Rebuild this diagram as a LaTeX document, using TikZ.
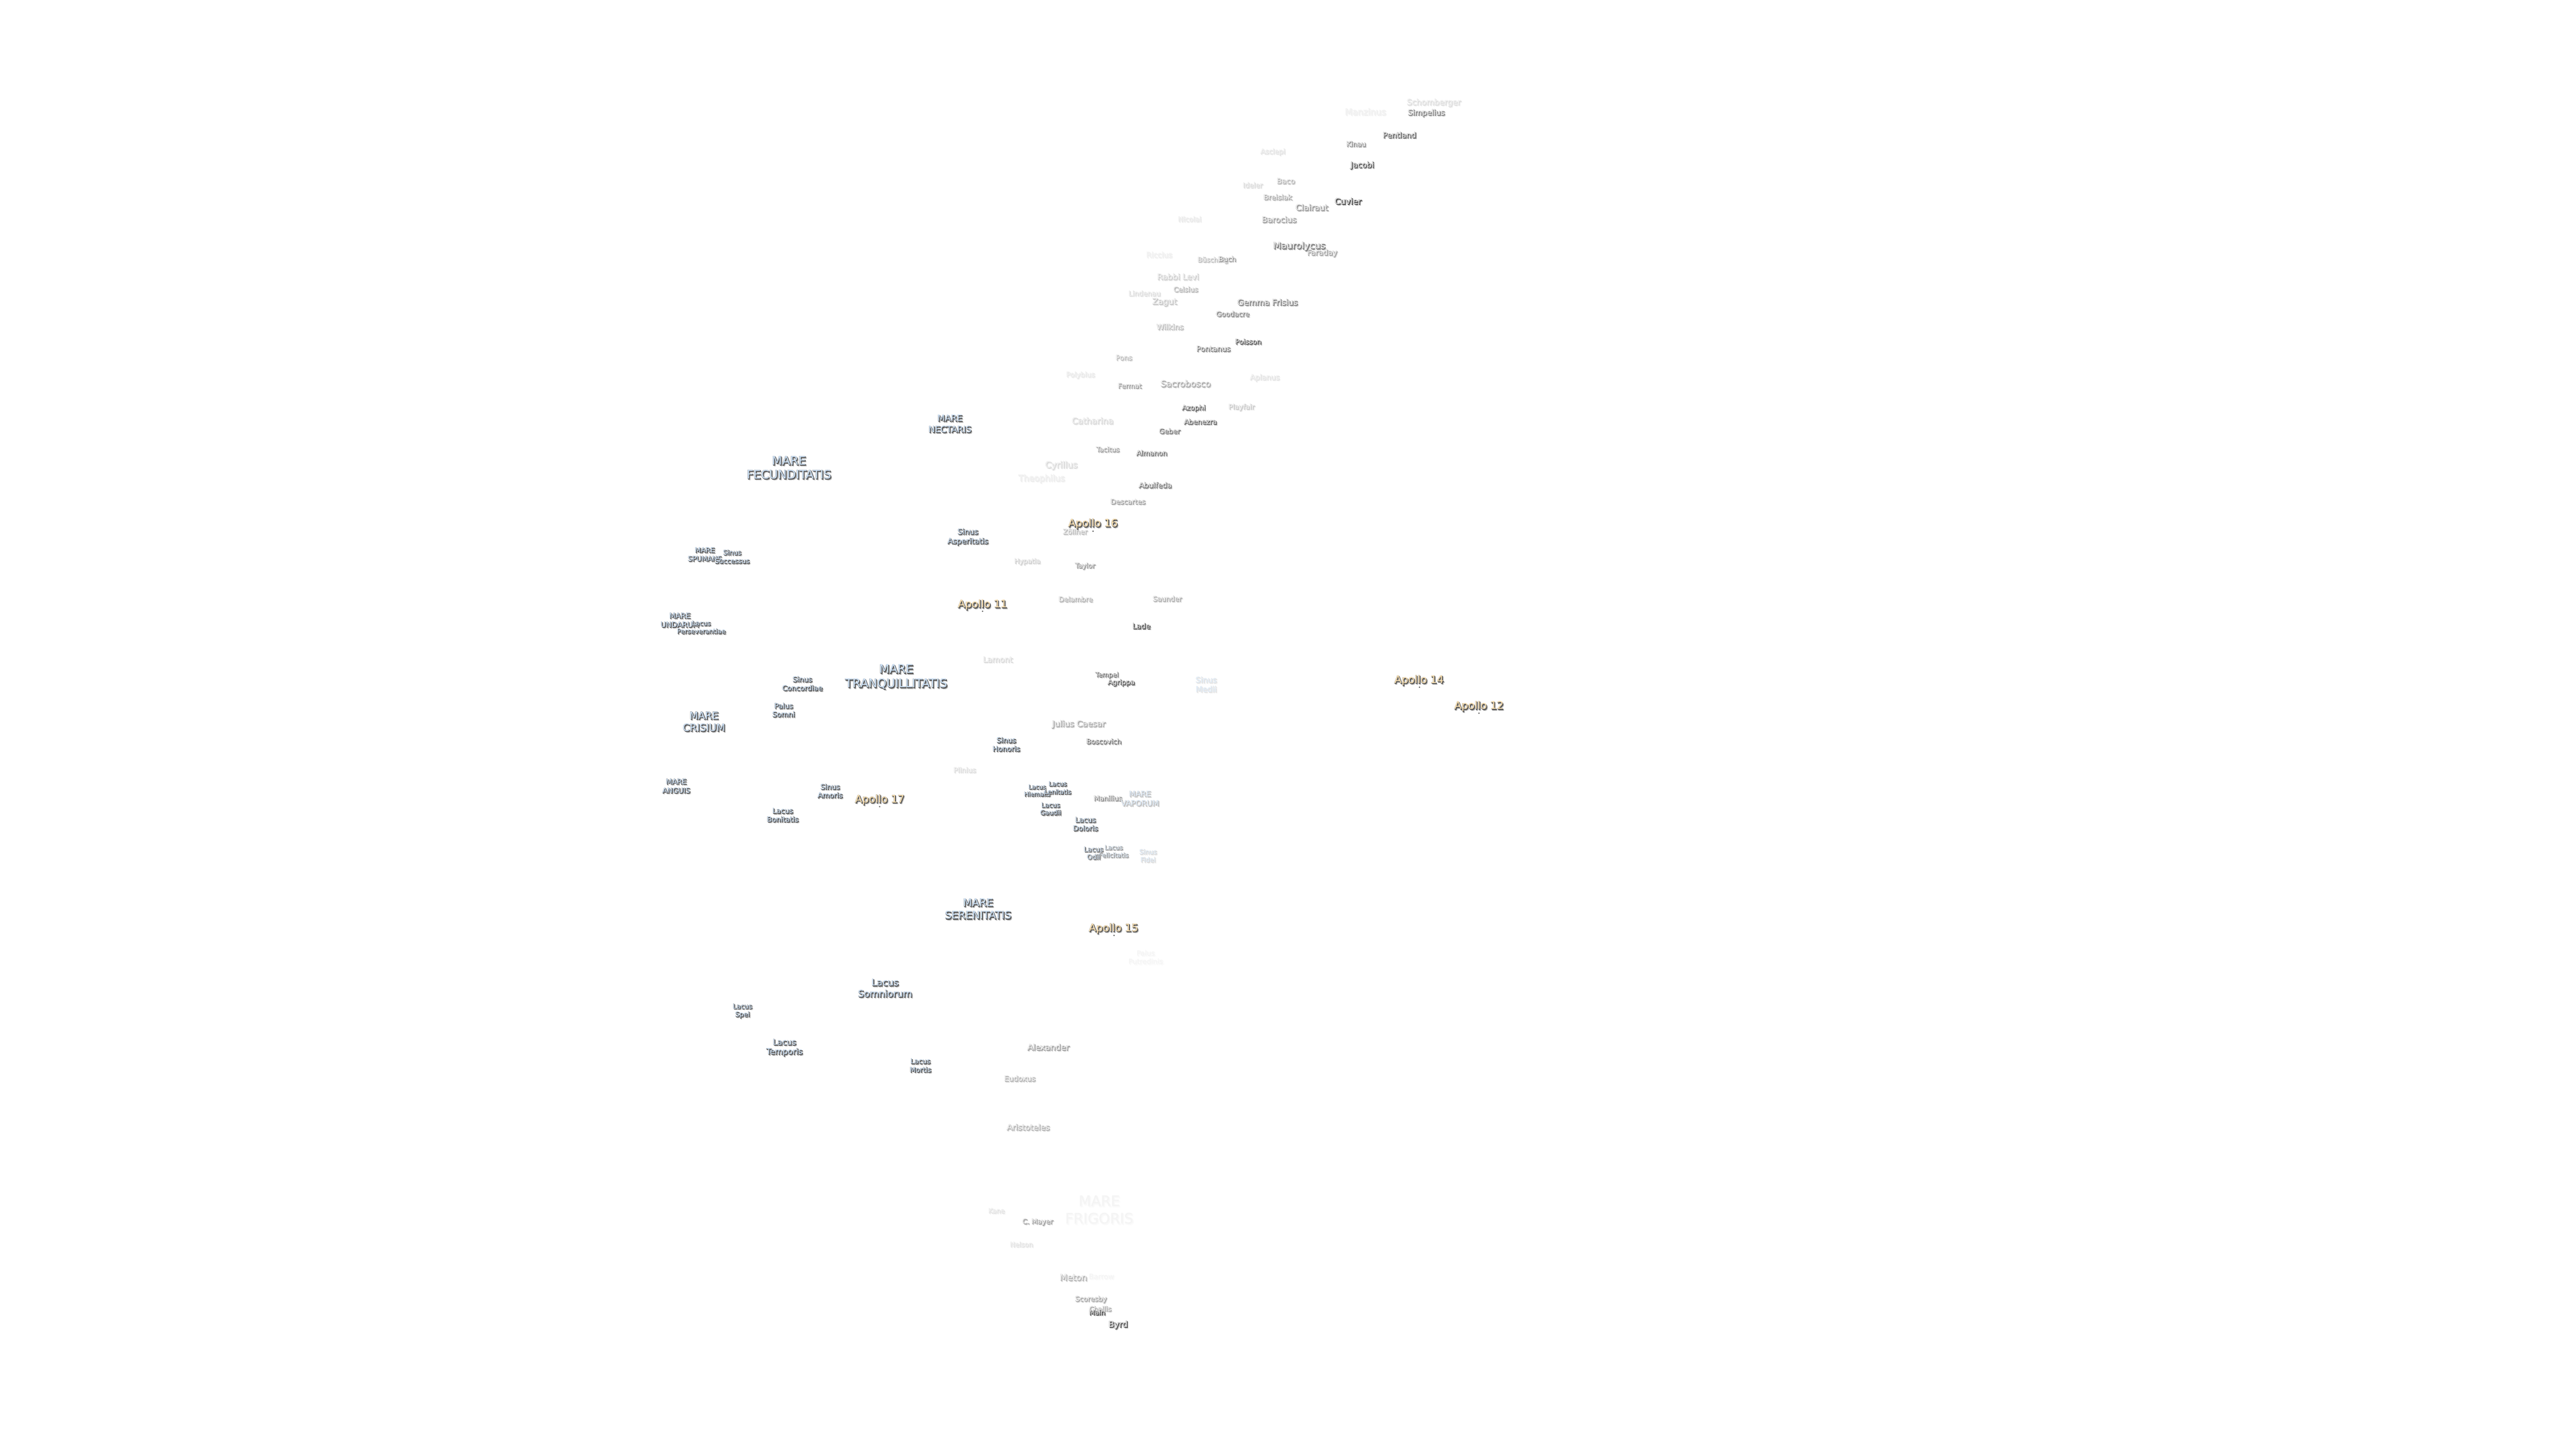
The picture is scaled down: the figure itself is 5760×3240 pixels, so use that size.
\documentclass[tikz,border=0pt]{standalone}
\usepackage{fontspec}
\setmainfont{DejaVu Sans}
\newfontfamily\moonbf[FakeBold=4]{DejaVu Sans}
\definecolor{maric}{HTML}{C9E0F8}
\definecolor{craterc}{HTML}{EAEAEA}
\definecolor{apolloc}{HTML}{FFE0A8}
\tikzset{
  moonlabel/.style={inner sep=0pt,outer sep=0pt,anchor=center},
  moonpin/.style={circle,inner sep=0pt,outer sep=0pt,minimum size=0.85pt,fill=black!65}
}
\newdimen\moonleadd
\newcommand\moonstk{\vbox{\baselineskip=\moonleadd\lineskip=0pt\lineskiplimit=-\maxdimen\halign{\hfil##\hfil\cr\moontext\crcr}}}
\newcommand\moonlayer[4]{\rlap{\kern#1\raisebox{#2}{\textcolor{#3}{#4\moonstk}}}}
% name x y fontpx leadpx strength fill text
\newcommand\moon[8]{%
  \pgfmathsetmacro\mshadow{#6*0.28}%
  \pgfmathsetmacro\mhalo{#6*0.42}%
  \pgfmathsetmacro\mcore{#6*0.72}%
  \pgfmathsetmacro\mfill{max(#6,55)}%
  \colorlet{mA}{black!\mshadow!white}%
  \colorlet{mB}{black!\mhalo!white}%
  \colorlet{mC}{black!\mcore!white}%
  \colorlet{mD}{#7!\mfill!white}%
  \node[moonlabel] (#1) at (#2,#3) {%
    \fontsize{\the\dimexpr #4pt/4\relax}{\the\dimexpr #5pt/4\relax}\selectfont
    \moonleadd=\dimexpr #5pt/4\relax
    \def\moontext{#8}%
    \moonlayer{0.7pt}{-0.7pt}{mA}{\moonbf}%
    \moonlayer{-0.05pt}{0.05pt}{mB}{\moonbf}%
    \moonlayer{0.35pt}{-0.35pt}{mC}{\moonbf}%
    \textcolor{mD}{\moonstk}%
  };}
\begin{document}
\begin{tikzpicture}[x=0.25pt,y=-0.25pt]
\useasboundingbox[fill=white] (0,0) rectangle (5760,3240);
% faint labels first
\moon{frigoris}{2458}{2707}{32}{39}{3}{craterc}{MARE\cr FRIGORIS}
\moon{putredinis}{2562}{2142}{15.5}{19}{3}{craterc}{Palus\cr Putredinis}
\moon{barrow}{2463}{2856}{16}{19}{3}{craterc}{Barrow}
\moon{manzinus}{3053}{251}{19.5}{23}{8}{craterc}{Manzinus}
\moon{schomberger}{3206}{231}{18}{22}{18}{craterc}{Schomberger}
\moon{simpelius}{3189}{254}{17}{21}{65}{craterc}{Simpelius}
\moon{pentland}{3129}{303}{17}{21}{80}{craterc}{Pentland}
\moon{kinau}{3032}{323}{15.5}{19}{60}{craterc}{Kinau}
\moon{asclepi}{2846}{341}{15.5}{19}{15}{craterc}{Asclepi}
\moon{jacobi}{3046}{371}{17.5}{21}{90}{craterc}{Jacobi}
\moon{baco}{2875}{406}{16.5}{20}{40}{craterc}{Baco}
\moon{ideler}{2801}{415}{15.5}{19}{20}{craterc}{Ideler}
\moon{breislak}{2857}{442}{16}{19}{45}{craterc}{Breislak}
\moon{clairaut}{2933}{465}{18.5}{22}{55}{craterc}{Clairaut}
\moon{cuvier}{3014}{451}{18.5}{22}{95}{craterc}{Cuvier}
\moon{barocius}{2860}{492}{18}{22}{50}{craterc}{Barocius}
\moon{nicolai}{2660}{491}{15.5}{19}{12}{craterc}{Nicolai}
\moon{faraday}{2956}{567}{17}{21}{50}{craterc}{Faraday}
\moon{maurolycus}{2905}{552}{20.5}{25}{70}{craterc}{Maurolycus}
\moon{riccius}{2592}{571}{16.5}{20}{8}{craterc}{Riccius}
\moon{busching}{2712}{583}{15}{18}{35}{craterc}{Büsching}
\moon{buch}{2744}{580}{15.5}{19}{55}{craterc}{Buch}
\moon{rabbilevi}{2634}{620}{18}{22}{25}{craterc}{Rabbi Levi}
\moon{celsius}{2651}{648}{15.5}{19}{40}{craterc}{Celsius}
\moon{lindenau}{2559}{657}{15.5}{19}{18}{craterc}{Lindenau}
\moon{zagut}{2604}{677}{18.5}{22}{30}{craterc}{Zagut}
\moon{gemma}{2834}{677}{18.2}{22}{65}{craterc}{Gemma Frisius}
\moon{goodacre}{2756}{703}{15.5}{19}{65}{craterc}{Goodacre}
\moon{wilkins}{2616}{732}{17}{21}{35}{craterc}{Wilkins}
\moon{poisson}{2791}{765}{15.5}{19}{85}{craterc}{Poisson}
\moon{pontanus}{2713}{781}{16.5}{20}{65}{craterc}{Pontanus}
\moon{pons}{2513}{801}{15.5}{19}{35}{craterc}{Pons}
\moon{polybius}{2416}{840}{15.5}{19}{12}{craterc}{Polybius}
\moon{aplanus}{2828}{846}{16.5}{20}{15}{craterc}{Aplanus}
\moon{fermat}{2526}{864}{15}{18}{50}{craterc}{Fermat}
\moon{sacrobosco}{2651}{859}{19.5}{24}{45}{craterc}{Sacrobosco}
\moon{azophi}{2669}{914}{15.5}{19}{80}{craterc}{Azophi}
\moon{playfair}{2776}{912}{15.5}{19}{28}{craterc}{Playfair}
\moon{catharina}{2443}{942}{19}{23}{20}{craterc}{Catharina}
\moon{abenezra}{2684}{944}{15.5}{19}{80}{craterc}{Abenezra}
\moon{geber}{2615}{965}{15.5}{19}{70}{craterc}{Geber}
\moon{tacitus}{2477}{1006}{15}{18}{50}{craterc}{Tacitus}
\moon{almanon}{2575}{1014}{15.5}{19}{75}{craterc}{Almanon}
\moon{cyrillus}{2373}{1042}{19.5}{24}{20}{craterc}{Cyrillus}
\moon{theophilus}{2329}{1072}{19}{23}{10}{craterc}{Theophilus}
\moon{abulfeda}{2583}{1086}{16.5}{20}{70}{craterc}{Abulfeda}
\moon{descartes}{2522}{1123}{15.5}{19}{50}{craterc}{Descartes}
\moon{zollner}{2404}{1190}{15.5}{19}{35}{craterc}{Zöllner}
\moon{hypatia}{2297}{1257}{15}{18}{25}{craterc}{Hypatia}
\moon{taylor}{2426}{1267}{15}{18}{55}{craterc}{Taylor}
\moon{delambre}{2405}{1341}{15.5}{19}{40}{craterc}{Delambre}
\moon{saunder}{2610}{1340}{15.5}{19}{45}{craterc}{Saunder}
\moon{lade}{2552}{1401}{16.5}{20}{95}{craterc}{Lade}
\moon{lamont}{2231}{1476}{17.5}{21}{20}{craterc}{Lamont}
\moon{tempel}{2475}{1511}{14.5}{18}{70}{craterc}{Tempel}
\moon{agrippa}{2507}{1528}{15.5}{19}{85}{craterc}{Agrippa}
\moon{medii}{2697}{1532}{17.5}{21}{15}{maric}{Sinus\cr Medii}
\moon{julius}{2412}{1621}{18.5}{22}{45}{craterc}{Julius Caesar}
\moon{boscovich}{2468}{1659}{15.5}{19}{70}{craterc}{Boscovich}
\moon{plinius}{2157}{1723}{15.5}{19}{18}{craterc}{Plinius}
\moon{manilius}{2477}{1786}{15.5}{19}{60}{craterc}{Manilius}
\moon{alexander}{2344}{2343}{18.5}{22}{50}{craterc}{Alexander}
\moon{eudoxus}{2280}{2413}{16.5}{20}{40}{craterc}{Eudoxus}
\moon{aristoteles}{2299}{2522}{18}{22}{40}{craterc}{Aristoteles}
\moon{kane}{2228}{2709}{14.5}{18}{15}{craterc}{Kane}
\moon{cmayer}{2320}{2734}{15.5}{19}{50}{craterc}{C. Mayer}
\moon{nelson}{2284}{2784}{15}{18}{15}{craterc}{Nelson}
\moon{meton}{2400}{2858}{19.5}{24}{40}{craterc}{Meton}
\moon{scoresby}{2439}{2907}{15.5}{19}{50}{craterc}{Scoresby}
\moon{challis}{2460}{2928}{15}{18}{45}{craterc}{Challis}
\moon{main}{2453}{2936}{15}{18}{95}{craterc}{Main}
\moon{byrd}{2500}{2964}{18.5}{22}{90}{craterc}{Byrd}
% seas, lakes, bays
\moon{nectaris}{2124}{949}{19.5}{25}{90}{maric}{MARE\cr NECTARIS}
\moon{fecunditatis}{1764}{1047}{26.5}{31}{90}{maric}{MARE\cr FECUNDITATIS}
\moon{asperitatis}{2164}{1202}{17}{21}{90}{maric}{Sinus\cr Asperitatis}
\moon{spumans}{1576}{1241}{15.5}{19}{90}{maric}{MARE\cr SPUMANS}
\moon{successus}{1637}{1246}{15}{19}{90}{maric}{Sinus\cr Successus}
\moon{undarum}{1520}{1388}{16.5}{20}{90}{maric}{MARE\cr UNDARUM}
\moon{perseverantiae}{1568}{1404}{14.5}{18}{90}{maric}{Lacus\cr Perseverantiae}
\moon{tranquillitatis}{2004}{1515}{26.5}{32}{90}{maric}{MARE\cr TRANQUILLITATIS}
\moon{concordiae}{1794}{1530}{16}{19.5}{90}{maric}{Sinus\cr Concordiae}
\moon{somni}{1752}{1589}{16}{19}{90}{maric}{Palus\cr Somni}
\moon{crisium}{1574}{1615}{22.5}{27}{90}{maric}{MARE\cr CRISIUM}
\moon{honoris}{2250}{1666}{16}{19}{90}{maric}{Sinus\cr Honoris}
\moon{anguis}{1512}{1759}{16}{20}{90}{maric}{MARE\cr ANGUIS}
\moon{amoris}{1856}{1770}{16}{19}{90}{maric}{Sinus\cr Amoris}
\moon{bonitatis}{1750}{1824}{16}{19}{90}{maric}{Lacus\cr Bonitatis}
\moon{hiemalis}{2319}{1769}{13.5}{16}{90}{maric}{Lacus\cr Hiemalis}
\moon{lenitatis}{2365}{1763}{14}{18}{90}{maric}{Lacus\cr Lenitatis}
\moon{gaudii}{2349}{1810}{14.5}{17}{90}{maric}{Lacus\cr Gaudii}
\moon{doloris}{2427}{1844}{16}{19}{85}{maric}{Lacus\cr Doloris}
\moon{vaporum}{2549}{1787}{17}{21}{35}{maric}{MARE\cr VAPORUM}
\moon{felicitatis}{2490}{1905}{14}{17}{55}{maric}{Lacus\cr Felicitatis}
\moon{odii}{2445}{1909}{15}{17}{75}{maric}{Lacus\cr Odii}
\moon{fidei}{2567}{1915}{14.5}{18}{20}{maric}{Sinus\cr Fidei}
\moon{serenitatis}{2187}{2034}{23.5}{28}{90}{maric}{MARE\cr SERENITATIS}
\moon{somniorum}{1979}{2211}{21}{25}{90}{maric}{Lacus\cr Somniorum}
\moon{spei}{1660}{2262}{15}{18}{90}{maric}{Lacus\cr Spei}
\moon{temporis}{1754}{2344}{18}{21}{90}{maric}{Lacus\cr Temporis}
\moon{mortis}{2058}{2384}{15.5}{19}{90}{maric}{Lacus\cr Mortis}
% landing sites
\moon{apollosixteen}{2444}{1173}{23.5}{28}{90}{apolloc}{Apollo 16}
\moon{apolloeleven}{2197}{1354}{23.5}{28}{90}{apolloc}{Apollo 11}
\moon{apolloseventeen}{1967}{1790}{23.5}{28}{90}{apolloc}{Apollo 17}
\moon{apollofifteen}{2490}{2078}{23.5}{28}{90}{apolloc}{Apollo 15}
\moon{apollofourteen}{3173}{1523}{23.5}{28}{90}{apolloc}{Apollo 14}
\moon{apollotwelve}{3307}{1581}{23.5}{28}{90}{apolloc}{Apollo 12}
\node[moonpin] (pinsixteen) at (2444,1188) {};
\node[moonpin] (pineleven) at (2197,1367) {};
\node[moonpin] (pinseventeen) at (1967,1804) {};
\node[moonpin] (pinfifteen) at (2491,2092) {};
\node[moonpin] (pinfourteen) at (3174,1537) {};
\node[moonpin] (pintwelve) at (3307,1595) {};
\end{tikzpicture}
\end{document}
